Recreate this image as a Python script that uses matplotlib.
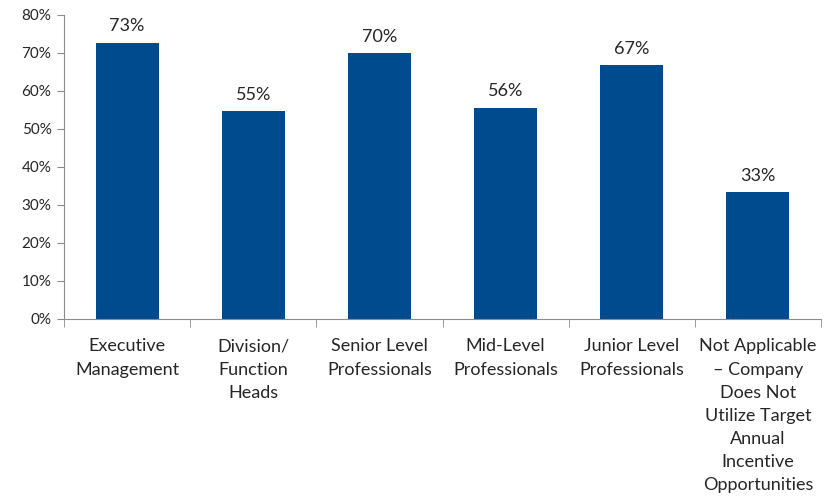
import numpy as np
import matplotlib.pyplot as plt
from matplotlib.ticker import FixedLocator, PercentFormatter

categories = [
    "Executive\nManagement",
    "Division/\nFunction\nHeads",
    "Senior Level\nProfessionals",
    "Mid-Level\nProfessionals",
    "Junior Level\nProfessionals",
    "Not Applicable\n\u2013 Company\nDoes Not\nUtilize Target\nAnnual\nIncentive\nOpportunities",
]
values = [72.7, 54.6, 70.0, 55.6, 66.7, 33.3]

plt.rcParams['font.family'] = ['Lato', 'DejaVu Sans']
text_col = "#262626"
axis_col = "#8c8c8c"
bar_col = "#004B8D"

fig = plt.figure(figsize=(8.31, 4.96), dpi=100)
ax = fig.add_axes([0.077, 0.357, 0.911, 0.613])

x = np.arange(len(categories))
ax.bar(x, values, width=0.5, color=bar_col, zorder=2)

for xi, v in zip(x, values):
    ax.text(xi, v + 2.2, "%.0f%%" % v, ha="center", va="bottom",
            fontsize=13, color=text_col)

ax.set_xlim(-0.5, len(categories) - 0.5)
ax.set_ylim(0, 80)
ax.set_yticks(np.arange(0, 81, 10))
ax.yaxis.set_major_formatter(PercentFormatter(decimals=0))

# category names centred under bars, tick marks on the boundaries
ax.set_xticks(x)
ax.set_xticklabels(categories, fontsize=13, color=text_col, linespacing=1.55)
ax.tick_params(axis="x", which="major", length=0, pad=14)
ax.xaxis.set_minor_locator(FixedLocator(np.arange(-0.5, len(categories), 1.0)))
ax.tick_params(axis="x", which="minor", length=6, color=axis_col, direction="out")
ax.tick_params(axis="y", length=5, color=axis_col, labelsize=11, labelcolor=text_col, pad=4)

for s in ["top", "right"]:
    ax.spines[s].set_visible(False)
for s in ["left", "bottom"]:
    ax.spines[s].set_color(axis_col)

for lbl in ax.get_xticklabels():
    lbl.set_va("top")

fig.savefig("out.png", dpi=100)
